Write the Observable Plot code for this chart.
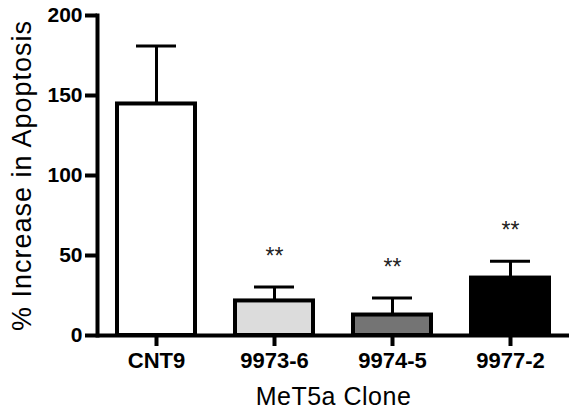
<!DOCTYPE html>
<html>
<head>
<meta charset="utf-8">
<script src="https://cdn.jsdelivr.net/npm/d3@7"></script>
<script src="https://cdn.jsdelivr.net/npm/@observablehq/plot@0.6"></script>
<style>
  html, body { margin: 0; padding: 0; background: white; }
  #chart svg { display: block; }
</style>
</head>
<body>
<div id="chart"></div>
<script>
const clones = ["CNT9", "9973-6", "9974-5", "9977-2"];
const means = [144.7, 21.6, 12.8, 35.9];
const errors = [36.2, 8.7, 10.6, 10.5];
const fills = ["#ffffff", "#dcdcdc", "#747474", "#000000"];
const stars = ["", "**", "**", "**"];
const yTicks = [0, 50, 100, 150, 200];
const yLabel = ["% Increase in Apoptosis"];
const xLabel = ["MeT5a Clone"];

const data = clones.map((c, i) => ({
  clone: c, mean: means[i], err: errors[i], fill: fills[i], star: stars[i]
}));

const chart = Plot.plot({
  width: 569,
  height: 412,
  marginLeft: 97,
  marginRight: 0,
  marginTop: 15,
  marginBottom: 77,
  style: { fontFamily: "'Liberation Sans', Arial, sans-serif", background: "white", color: "black", overflow: "visible" },
  x: { domain: clones, paddingInner: 0.34, paddingOuter: 0.17, label: null },
  y: { domain: [0, 200], label: null },
  color: { type: "identity" },
  marks: [
    Plot.ruleX(data, { x: "clone", y1: "mean", y2: d => d.mean + d.err, stroke: "black", strokeWidth: 3 }),
    Plot.tickY(data, { x: "clone", y: d => d.mean + d.err, stroke: "black", strokeWidth: 3, insetLeft: 19, insetRight: 19 }),
    Plot.barY(data, { x: "clone", y: "mean", fill: "fill", stroke: "black", strokeWidth: 4 }),
    Plot.ruleY([0], { stroke: "black", strokeWidth: 4 }),
    Plot.frame({ anchor: "left", stroke: "black", strokeWidth: 4 }),
    Plot.axisY({ ticks: yTicks, tickSize: 12, tickPadding: 3, strokeWidth: 4, fontSize: 21, fontWeight: "bold", label: null }),
    Plot.axisX({ tickSize: 11, tickPadding: 6, strokeWidth: 4, fontSize: 22, fontWeight: "bold", label: null }),
    Plot.text(data.filter(d => d.star), { x: "clone", y: d => d.mean + d.err, text: "star", lineAnchor: "bottom", dy: -23, fontSize: 23, fill: "#222" }),
    Plot.text(yLabel, { frameAnchor: "left", textAnchor: "middle", lineAnchor: "middle", rotate: -90, dx: -75, fontSize: 27 }),
    Plot.text(xLabel, { frameAnchor: "bottom", textAnchor: "middle", lineAnchor: "middle", dy: 61, fontSize: 25 })
  ]
});
d3.select(chart).selectAll("text")
  .filter(function () { return this.textContent === yLabel[0]; })
  .attr("letter-spacing", "1px");
d3.select(chart).selectAll("text")
  .filter(function () { return this.textContent === xLabel[0]; })
  .attr("letter-spacing", "0.5px");
document.getElementById("chart").appendChild(chart);
</script>
</body>
</html>
